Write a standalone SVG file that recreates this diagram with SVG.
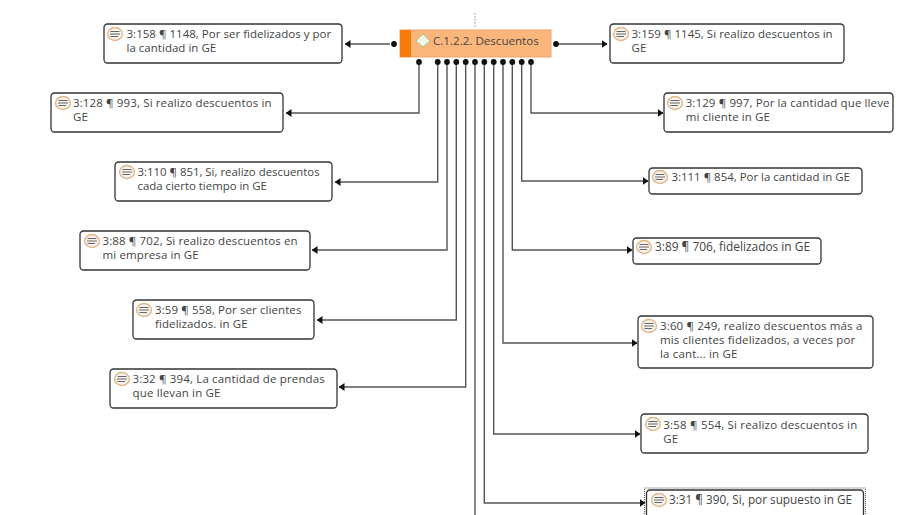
<svg xmlns="http://www.w3.org/2000/svg" width="910" height="515" viewBox="0 0 910 515">
<style>
.b{fill:#fff;stroke:#333;stroke-width:1.3}
.t{font-family:"Open Sans","Noto Sans","Liberation Sans",sans-serif;fill:#444}
.c{fill:none;stroke:#555;stroke-width:1.4}
.i{fill:#f6f3ee;stroke:#e2b585;stroke-width:1.3}
.l{stroke:#666;stroke-width:1}
.d{fill:#111}
</style>
<defs>
<marker id="a" viewBox="0 0 6 8" refX="5.500" refY="4" markerWidth="6" markerHeight="8" markerUnits="userSpaceOnUse" orient="auto"><path d="M0 0L6 4L0 8z" fill="#111"/></marker>
<g id="n"><ellipse class="i" cx="0" cy="0" rx="7.500" ry="6.500"/><path class="l" d="M-4.500-2.500H4.500M-5 0H5M-4.500 2.500H3"/></g>
</defs>
<rect width="910" height="515" fill="#fff"/>
<g id="connectors">
<path class="c" marker-end="url(#a)" d="M390 44H345"/>
<path class="c" marker-end="url(#a)" d="M556 44H607"/>
<path class="c" marker-end="url(#a)" d="M419 62V113H286"/>
<path class="c" marker-end="url(#a)" d="M437.700 62V182H335"/>
<path class="c" marker-end="url(#a)" d="M447 62V250H312"/>
<path class="c" marker-end="url(#a)" d="M456.300 62V320H317"/>
<path class="c" marker-end="url(#a)" d="M465.700 62V387H339"/>
<path class="c" d="M475 62V515"/>
<path class="c" marker-end="url(#a)" d="M484.300 62V503H645"/>
<path class="c" marker-end="url(#a)" d="M493.700 62V434H640"/>
<path class="c" marker-end="url(#a)" d="M503 62V343H637"/>
<path class="c" marker-end="url(#a)" d="M512.300 62V250H632"/>
<path class="c" marker-end="url(#a)" d="M521.700 62V181H648"/>
<path class="c" marker-end="url(#a)" d="M531 62V113H663"/>
<g class="d"><circle cx="394" cy="44" r="2.900"/><circle cx="556" cy="44" r="2.900"/><circle cx="419" cy="62" r="2.900"/><circle cx="437.700" cy="62" r="2.900"/><circle cx="447" cy="62" r="2.900"/><circle cx="456.300" cy="62" r="2.900"/><circle cx="465.700" cy="62" r="2.900"/><circle cx="475" cy="62" r="2.900"/><circle cx="484.300" cy="62" r="2.900"/><circle cx="493.700" cy="62" r="2.900"/><circle cx="503" cy="62" r="2.900"/><circle cx="512.300" cy="62" r="2.900"/><circle cx="521.700" cy="62" r="2.900"/><circle cx="531" cy="62" r="2.900"/></g>
<path d="M475 13V27" stroke="#a08080" stroke-width="1" stroke-dasharray="1.500 1.500" fill="none"/>
</g>
<g id="main" font-size="11.600"><rect x="400" y="30" width="151" height="27" fill="#fcb67c" stroke="#eda468"/><rect x="400" y="30" width="11" height="27" fill="#f57c0c"/><path d="M423 34L430 41L423 47L416 41z" fill="#f4f6e4" stroke="#a8c48c"/><text class="t" x="433" y="45">C.1.2.2. Descuentos</text></g>
<g id="q158" font-size="11.500" letter-spacing=".02"><rect class="b" x="104" y="24" width="238" height="39" rx="3.500"/><use href="#n" x="115" y="34"/><text class="t" x="126.500" y="38">3:158 ¶ 1148, Por ser fidelizados y por</text><text class="t" x="126.500" y="52">la cantidad in GE</text></g>
<g id="q159" font-size="11.500" letter-spacing=".02"><rect class="b" x="610" y="24" width="234" height="39" rx="3.500"/><use href="#n" x="621" y="34"/><text class="t" x="631.500" y="38">3:159 ¶ 1145, Si realizo descuentos in</text><text class="t" x="631.500" y="52">GE</text></g>
<g id="q128" font-size="11.500" letter-spacing=".13"><rect class="b" x="51" y="93" width="232" height="39" rx="3.500"/><use href="#n" x="63" y="103"/><text class="t" x="73" y="107">3:128 ¶ 993, Si realizo descuentos in</text><text class="t" x="73" y="121">GE</text></g>
<g id="q129" font-size="11.500" letter-spacing=".11"><rect class="b" x="664" y="93" width="229" height="39" rx="3.500"/><use href="#n" x="675" y="103"/><text class="t" x="685.700" y="107">3:129 ¶ 997, Por la cantidad que lleve</text><text class="t" x="685.700" y="121">mi cliente in GE</text></g>
<g id="q110" font-size="11.400"><rect class="b" x="115" y="162" width="217" height="39" rx="3.500"/><use href="#n" x="127" y="172"/><text class="t" x="137.500" y="176">3:110 ¶ 851, Si, realizo descuentos</text><text class="t" x="137.500" y="190">cada cierto tiempo in GE</text></g>
<g id="q111" font-size="11.450"><rect class="b" x="649" y="168" width="213" height="26" rx="3.500"/><use href="#n" x="660" y="177"/><text class="t" x="671.500" y="181">3:111 ¶ 854, Por la cantidad in GE</text></g>
<g id="q88" font-size="11.500" letter-spacing=".12"><rect class="b" x="80" y="231" width="230" height="39" rx="3.500"/><use href="#n" x="92" y="241"/><text class="t" x="102.500" y="245">3:88 ¶ 702, Si realizo descuentos en</text><text class="t" x="102.500" y="259">mi empresa in GE</text></g>
<g id="q89" font-size="11.900"><rect class="b" x="633" y="238" width="188" height="26" rx="3.500"/><use href="#n" x="644" y="247"/><text class="t" x="655" y="251">3:89 ¶ 706, fidelizados in GE</text></g>
<g id="q59" font-size="11.500" letter-spacing=".09"><rect class="b" x="133" y="300" width="181" height="39" rx="3.500"/><use href="#n" x="144" y="310"/><text class="t" x="155" y="314">3:59 ¶ 558, Por ser clientes</text><text class="t" x="155" y="328">fidelizados. in GE</text></g>
<g id="q60" font-size="11.500" letter-spacing=".15"><rect class="b" x="638" y="316" width="235" height="52" rx="3.500"/><use href="#n" x="649" y="326"/><text class="t" x="660" y="330">3:60 ¶ 249, realizo descuentos más a</text><text class="t" x="660" y="344">mis clientes fidelizados, a veces por</text><text class="t" x="660" y="358">la cant... in GE</text></g>
<g id="q32" font-size="11.500" letter-spacing=".15"><rect class="b" x="110" y="369" width="227" height="39" rx="3.500"/><use href="#n" x="122" y="379"/><text class="t" x="132.500" y="383">3:32 ¶ 394, La cantidad de prendas</text><text class="t" x="132.500" y="397">que llevan in GE</text></g>
<g id="q58" font-size="11.500" letter-spacing=".19"><rect class="b" x="641" y="414" width="227" height="39" rx="3.500"/><use href="#n" x="653" y="424"/><text class="t" x="663.300" y="429">3:58 ¶ 554, Si realizo descuentos in</text><text class="t" x="663.300" y="443">GE</text></g>
<g id="q31" font-size="11.770"><rect x="644.500" y="488" width="221" height="30" fill="none" stroke="#555" stroke-dasharray="1 1"/><rect class="b" x="646.500" y="490" width="217" height="30" rx="3.500"/><use href="#n" x="659" y="500"/><text class="t" x="669" y="504">3:31 ¶ 390, Si, por supuesto in GE</text></g>
</svg>
